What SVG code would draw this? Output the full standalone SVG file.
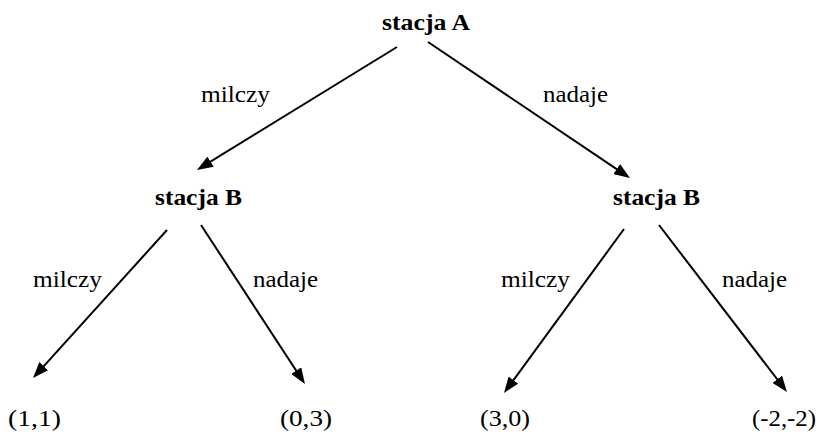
<svg xmlns="http://www.w3.org/2000/svg" width="820" height="432" viewBox="0 0 820 432">
  <style>
    text { font-family: 'Liberation Serif', 'DejaVu Serif', serif; font-size: 23px; fill: #000; }
    .node { font-weight: bold; }
    .edge { stroke: #000; stroke-width: 2; fill: none; }
  </style>
  <defs>
    <marker id="arrow" markerUnits="userSpaceOnUse" markerWidth="16" markerHeight="12" refX="4" refY="6" orient="auto">
      <path d="M0,0 L16,6 L0,12 z" fill="#000"/>
    </marker>
  </defs>
  <rect width="820" height="432" fill="#fff"/>

  <g id="connectors">
    <line class="edge" x1="397" y1="47" x2="207.2" y2="163.7" marker-end="url(#arrow)"/>
    <line class="edge" x1="428" y1="42" x2="620" y2="171.3" marker-end="url(#arrow)"/>
    <line class="edge" x1="167" y1="230" x2="41.1" y2="369.1" marker-end="url(#arrow)"/>
    <line class="edge" x1="201" y1="225" x2="298.4" y2="374" marker-end="url(#arrow)"/>
    <line class="edge" x1="624" y1="229" x2="511.1" y2="383.3" marker-end="url(#arrow)"/>
    <line class="edge" x1="659" y1="225" x2="779.7" y2="382.5" marker-end="url(#arrow)"/>
    <text x="201" y="102" textLength="69" lengthAdjust="spacingAndGlyphs">milczy</text>
    <text x="543" y="102" textLength="65" lengthAdjust="spacingAndGlyphs">nadaje</text>
    <text x="33" y="287" textLength="69" lengthAdjust="spacingAndGlyphs">milczy</text>
    <text x="253" y="287" textLength="65" lengthAdjust="spacingAndGlyphs">nadaje</text>
    <text x="501" y="287" textLength="69" lengthAdjust="spacingAndGlyphs">milczy</text>
    <text x="722" y="287" textLength="65" lengthAdjust="spacingAndGlyphs">nadaje</text>
  </g>

  <g id="root">
    <text class="node" x="382" y="30" textLength="88" lengthAdjust="spacingAndGlyphs">stacja A</text>
  </g>
  <g id="b-left">
    <text class="node" x="155" y="205" textLength="87" lengthAdjust="spacingAndGlyphs">stacja B</text>
  </g>
  <g id="b-right">
    <text class="node" x="613" y="205" textLength="87" lengthAdjust="spacingAndGlyphs">stacja B</text>
  </g>
  <g id="leaf-1-1">
    <text x="8" y="426" textLength="53" lengthAdjust="spacingAndGlyphs">(1,1)</text>
  </g>
  <g id="leaf-0-3">
    <text x="280" y="426" textLength="52" lengthAdjust="spacingAndGlyphs">(0,3)</text>
  </g>
  <g id="leaf-3-0">
    <text x="480" y="426" textLength="50" lengthAdjust="spacingAndGlyphs">(3,0)</text>
  </g>
  <g id="leaf-m2-m2">
    <text x="752" y="426" textLength="64" lengthAdjust="spacingAndGlyphs">(-2,-2)</text>
  </g>
</svg>
